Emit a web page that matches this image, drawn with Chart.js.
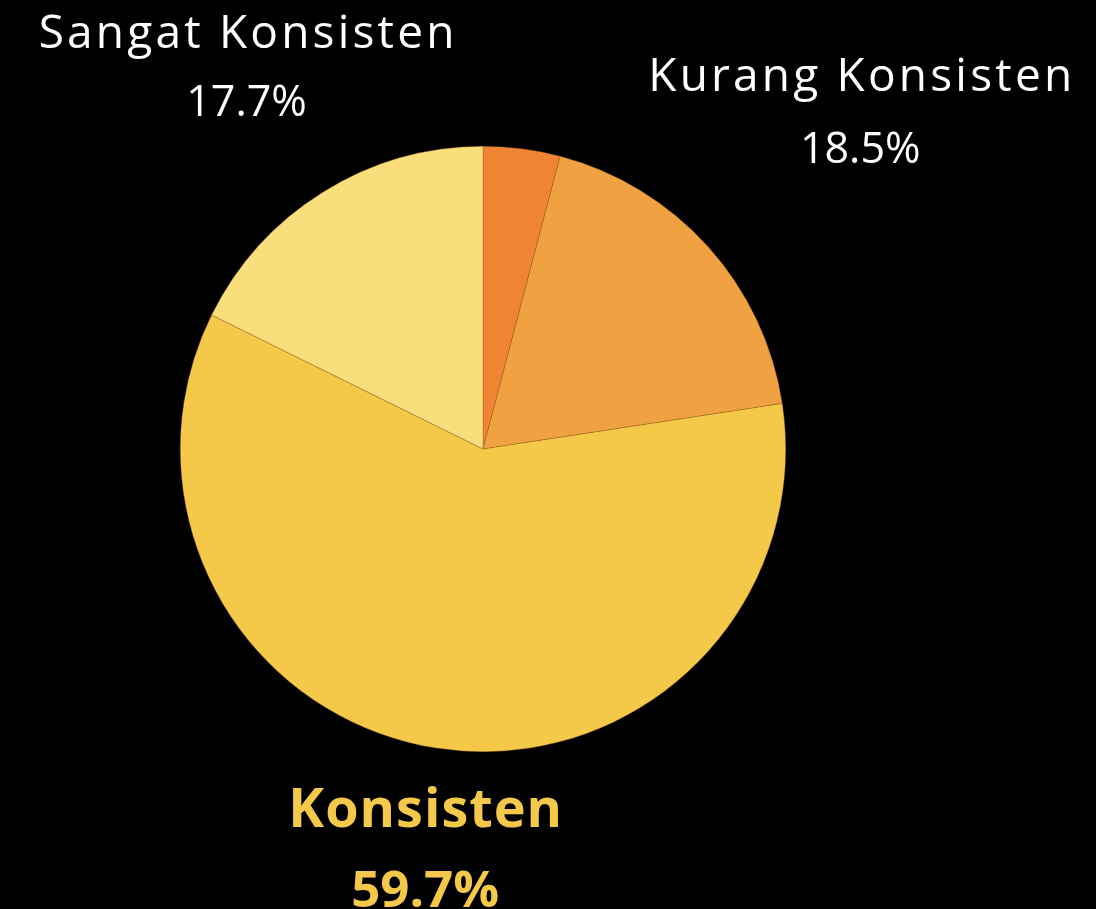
<!DOCTYPE html>
<html>
<head>
<meta charset="utf-8">
<script src="https://cdn.jsdelivr.net/npm/chart.js@4.4.1/dist/chart.umd.min.js"></script>
<style>
  html, body { margin: 0; padding: 0; background: #000; }
  #wrap { width: 1096px; height: 909px; }
</style>
</head>
<body>
<div id="wrap"><canvas id="pieChart"></canvas></div>
<script>
// données du graphique
var categories = ['Tidak Konsisten', 'Kurang Konsisten', 'Konsisten', 'Sangat Konsisten'];
var persen = [4.1, 18.5, 59.7, 17.7];
var warna = ['#ef8434', '#f0a242', '#f4c94a', '#f9de7c'];

// style des étiquettes (index -> réglages), la tranche 0 n'a pas d'étiquette
var labelStyle = {
    1: { gap: 191, dx: 10, dy: 8, size: 46, weight: '400', color: '#ffffff', spacing: 72, ls: 3.2 },
    2: { gap: 120, dx: 7, dy: 0, size: 54, weight: '700', color: '#f4c94a', spacing: 80, ls: 1 },
    3: { gap: 132, dx: -7, dy: 2, size: 46, weight: '400', color: '#ffffff', spacing: 68, ls: 3.2 }
};

var outsideLabels = {
    id: 'outsideLabels',
    afterDatasetsDraw: function (chart) {
        var ctx = chart.ctx;
        var meta = chart.getDatasetMeta(0);
        meta.data.forEach(function (arc, i) {
            var st = labelStyle[i];
            if (!st) return;
            var mid = (arc.startAngle + arc.endAngle) / 2;
            var r = arc.outerRadius + st.gap;
            var x = arc.x + Math.cos(mid) * r + st.dx;
            var y = arc.y + Math.sin(mid) * r + st.dy;
            ctx.save();
            ctx.fillStyle = st.color;
            ctx.textAlign = 'center';
            ctx.textBaseline = 'alphabetic';
            // nom de la catégorie (lettres un peu espacées)
            ctx.font = st.weight + ' ' + st.size + 'px "Open Sans", sans-serif';
            ctx.letterSpacing = st.ls + 'px';
            ctx.fillText(categories[i], x + st.ls / 2, y - st.spacing / 2);
            // pourcentage
            ctx.letterSpacing = '0px';
            ctx.font = st.weight + ' ' + (st.size - 3) + 'px "Open Sans", sans-serif';
            ctx.fillText(persen[i].toFixed(1) + '%', x, y + st.spacing / 2);
            ctx.restore();
        });
    }
};

var ctx = document.getElementById('pieChart').getContext('2d');
var pieChart = new Chart(ctx, {
    type: 'pie',
    data: {
        labels: categories,
        datasets: [{
            data: persen,
            backgroundColor: warna,
            borderColor: 'rgba(150, 90, 20, 0.6)',
            borderWidth: 0.6
        }]
    },
    options: {
        responsive: true,
        maintainAspectRatio: false,
        animation: false,
        layout: {
            padding: { left: 180, right: 310, top: 146, bottom: 157 }
        },
        plugins: {
            legend: { display: false },
            tooltip: { enabled: false }
        }
    },
    plugins: [outsideLabels]
});
</script>
</body>
</html>
